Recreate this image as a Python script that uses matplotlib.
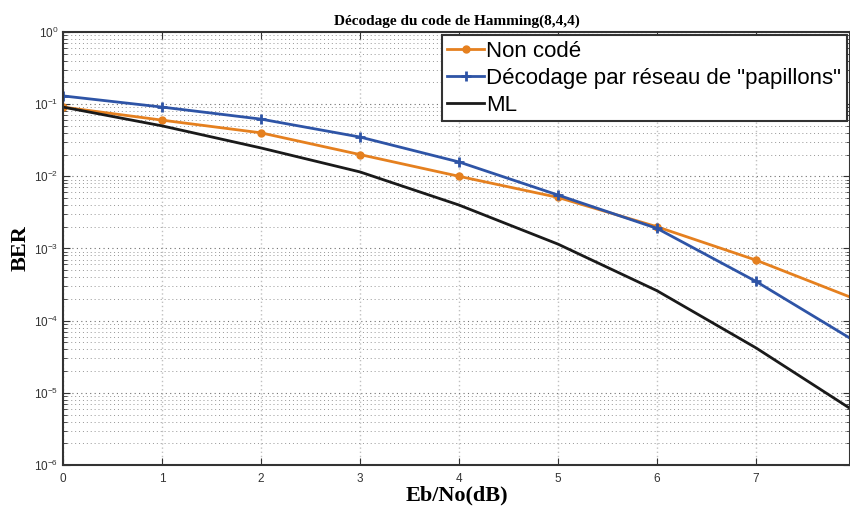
import numpy as np
from matplotlib import pyplot as plt
from matplotlib.ticker import LogLocator, NullFormatter

# Eb/No points (dB)
ebno = [0, 1, 2, 3, 4, 5, 6, 7, 8]

# BER curves
ber_non_code = [0.091, 0.060, 0.040, 0.020, 0.010, 0.0051, 0.0020, 0.00069, 0.00020]
ber_papillons = [0.130, 0.091, 0.062, 0.035, 0.0158, 0.0055, 0.0019, 0.00035, 0.000052]
ber_ml = [0.091, 0.050, 0.0247, 0.0115, 0.0040, 0.00115, 0.00026, 0.000042, 0.0000055]

labels = ['Non codé', 'Décodage par réseau de "papillons"', 'ML']

plt.rcParams['mathtext.fontset'] = 'custom'
plt.rcParams['mathtext.rm'] = 'Liberation Sans'
plt.rcParams['mathtext.it'] = 'Liberation Sans'

fig = plt.figure(figsize=(8.5, 5.07), dpi=100)
ax = fig.add_axes([0.0741, 0.0828, 0.9259, 0.8542])

ax.semilogy(ebno, ber_non_code, color='#E5801F', lw=2, marker='o', ms=5, label=labels[0])
ax.semilogy(ebno, ber_papillons, color='#2E54A6', lw=2, marker='+', ms=7, mew=2, label=labels[1])
ax.semilogy(ebno, ber_ml, color='#1a1a1a', lw=2, label=labels[2])

ax.set_xlim(0, 7.95)
ax.set_ylim(1e-6, 1)
ax.set_xticks(range(0, 8))
ax.yaxis.set_major_locator(LogLocator(base=10, numticks=10))
ax.yaxis.set_minor_locator(LogLocator(base=10, subs=np.arange(2, 10), numticks=20))
ax.yaxis.set_minor_formatter(NullFormatter())

ax.grid(True, which='major', axis='x', ls=(0, (1, 2)), color='#c0c0c0', lw=1)
ax.grid(True, which='major', axis='y', ls=(0, (1, 3)), color='#707070', lw=0.8)
ax.grid(True, which='minor', axis='y', ls=(0, (1, 3)), color='#959595', lw=0.7)

ax.tick_params(which='both', direction='in', top=True, right=True, labelsize=8.5,
               labelcolor='#333333', color='#333333')
ax.tick_params(which='major', length=5)
ax.tick_params(which='minor', length=3)
ax.tick_params(axis='x', pad=6)
for lab in ax.get_xticklabels() + ax.get_yticklabels():
    lab.set_fontfamily('Liberation Sans')
for s in ax.spines.values():
    s.set_linewidth(1.5)
    s.set_color('#333333')

ax.set_title('Décodage du code de Hamming(8,4,4)', fontfamily='Liberation Serif',
             fontweight='bold', fontsize=11, pad=5)
ax.set_xlabel('Eb/No(dB)', fontfamily='Liberation Serif', fontweight='bold',
              fontsize=16, labelpad=0)
ax.set_ylabel('BER', fontfamily='Liberation Serif', fontweight='bold', fontsize=16)
ax.yaxis.set_label_coords(-0.041, 0.5)

leg = ax.legend(loc='upper right', prop={'family': 'Liberation Sans', 'size': 16},
                fancybox=False, framealpha=1, edgecolor='#333333',
                borderpad=0.25, labelspacing=0.27, handlelength=1.65,
                handletextpad=0.1, borderaxespad=0.15)
leg.get_frame().set_linewidth(1.5)

plt.savefig('out.png')
